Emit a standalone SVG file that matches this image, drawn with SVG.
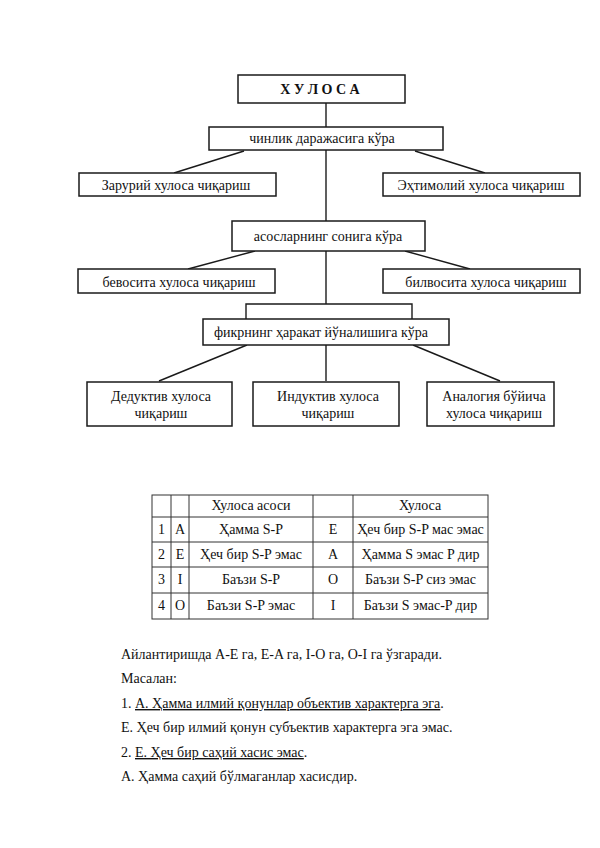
<svg xmlns="http://www.w3.org/2000/svg" width="600" height="848" viewBox="0 0 600 848">
<style>
.box{fill:#fff;stroke:#1a1a1a;stroke-width:1.5}
.ln{stroke:#1a1a1a;stroke-width:1.4;fill:none}
.t{font-family:"Liberation Serif","Times New Roman",serif;font-size:14px;fill:#111;text-anchor:middle}
.tl{font-family:"Liberation Serif","Times New Roman",serif;font-size:14px;fill:#111}
.tb{stroke:#333;stroke-width:1;fill:none}
.u{text-decoration:underline}
</style>
<rect width="600" height="848" fill="#fff"/>
<g id="connectors">
<line class="ln" x1="326" y1="103" x2="326" y2="127"/>
<line class="ln" x1="244" y1="151" x2="174" y2="173"/>
<line class="ln" x1="415" y1="151" x2="485" y2="173"/>
<line class="ln" x1="326" y1="150" x2="326" y2="221"/>
<line class="ln" x1="255" y1="251" x2="188" y2="269"/>
<line class="ln" x1="405" y1="251" x2="470" y2="269"/>
<line class="ln" x1="326" y1="251" x2="326" y2="304"/>
<polyline class="ln" points="246,319 246,304 412,304 412,319"/>
<line class="ln" x1="247" y1="345" x2="159" y2="381"/>
<line class="ln" x1="326" y1="345" x2="326" y2="381"/>
<line class="ln" x1="413" y1="345" x2="500" y2="381"/>
</g>
<g id="n_xulosa"><rect class="box" x="238" y="75" width="167" height="28"/><text class="t" x="320" y="94" style="font-weight:bold">Х У Л О С А</text></g>
<g id="n_chinlik"><rect class="box" x="209" y="127" width="234" height="23"/><text class="t" x="322" y="143">чинлик даражасига кўра</text></g>
<g id="n_zaruriy"><rect class="box" x="79" y="173" width="197" height="23"/><text class="t" x="176" y="190">Зарурий хулоса чиқариш</text></g>
<g id="n_extimoliy"><rect class="box" x="383" y="173" width="197" height="23"/><text class="t" x="481" y="190">Эҳтимолий хулоса чиқариш</text></g>
<g id="n_asos"><rect class="box" x="232" y="221" width="193" height="30"/><text class="t" x="328" y="241">асосларнинг сонига кўра</text></g>
<g id="n_bevosita"><rect class="box" x="78" y="269" width="197" height="24"/><text class="t" x="179" y="287">бевосита хулоса чиқариш</text></g>
<g id="n_bilvosita"><rect class="box" x="383" y="269" width="197" height="24"/><text class="t" x="486" y="287">билвосита хулоса чиқариш</text></g>
<g id="n_fikr"><rect class="box" x="203" y="319" width="246" height="26"/><text class="t" x="321" y="337">фикрнинг ҳаракат йўналишига кўра</text></g>
<g id="n_deduktiv"><rect class="box" x="87" y="382" width="145" height="44"/><text class="t" x="161" y="401">Дедуктив хулоса</text><text class="t" x="161" y="418">чиқариш</text></g>
<g id="n_induktiv"><rect class="box" x="253" y="382" width="146" height="44"/><text class="t" x="328" y="401">Индуктив хулоса</text><text class="t" x="328" y="418">чиқариш</text></g>
<g id="n_analog"><rect class="box" x="427" y="382" width="127" height="44"/><text class="t" x="494" y="401">Аналогия бўйича</text><text class="t" x="494" y="418">хулоса чиқариш</text></g>
<g id="table">
<rect class="tb" x="152" y="495" width="336" height="124"/>
<line class="tb" x1="152" y1="517" x2="488" y2="517"/>
<line class="tb" x1="152" y1="542" x2="488" y2="542"/>
<line class="tb" x1="152" y1="567" x2="488" y2="567"/>
<line class="tb" x1="152" y1="593" x2="488" y2="593"/>
<line class="tb" x1="171" y1="495" x2="171" y2="619"/>
<line class="tb" x1="189" y1="495" x2="189" y2="619"/>
<line class="tb" x1="313" y1="495" x2="313" y2="619"/>
<line class="tb" x1="353" y1="495" x2="353" y2="619"/>
<text class="t" x="251" y="510">Хулоса асоси</text>
<text class="t" x="420" y="510">Хулоса</text>
<text class="t" x="161.5" y="534">1</text><text class="t" x="180" y="534">A</text><text class="t" x="251" y="534">Ҳамма S-P</text><text class="t" x="333" y="534">E</text><text class="t" x="420.5" y="534">Ҳеч бир S-P мас эмас</text>
<text class="t" x="161.5" y="559">2</text><text class="t" x="180" y="559">E</text><text class="t" x="251" y="559">Ҳеч бир S-P эмас</text><text class="t" x="333" y="559">A</text><text class="t" x="420.5" y="559">Ҳамма S эмас P дир</text>
<text class="t" x="161.5" y="584">3</text><text class="t" x="180" y="584">I</text><text class="t" x="251" y="584">Баъзи S-P</text><text class="t" x="333" y="584">O</text><text class="t" x="420.5" y="584">Баъзи S-P сиз эмас</text>
<text class="t" x="161.5" y="610">4</text><text class="t" x="180" y="610">O</text><text class="t" x="251" y="610">Баъзи S-P эмас</text><text class="t" x="333" y="610">I</text><text class="t" x="420.5" y="610">Баъзи S эмас-P дир</text>
</g>
<g id="notes">
<text class="tl" x="121" y="659">Айлантиришда A-E га, E-A га, I-O га, O-I га ўзгаради.</text>
<text class="tl" x="121" y="683">Масалан:</text>
<text class="tl" x="121" y="708">1. <tspan class="u">А. Ҳамма илмий қонунлар объектив характерга эга</tspan>.</text>
<text class="tl" x="121" y="732">Е. Ҳеч бир илмий қонун субъектив характерга эга эмас.</text>
<text class="tl" x="121" y="757">2. <tspan class="u">Е. Ҳеч бир саҳий хасис эмас</tspan>.</text>
<text class="tl" x="121" y="781">А. Ҳамма саҳий бўлмаганлар хасисдир.</text>
</g>
</svg>
